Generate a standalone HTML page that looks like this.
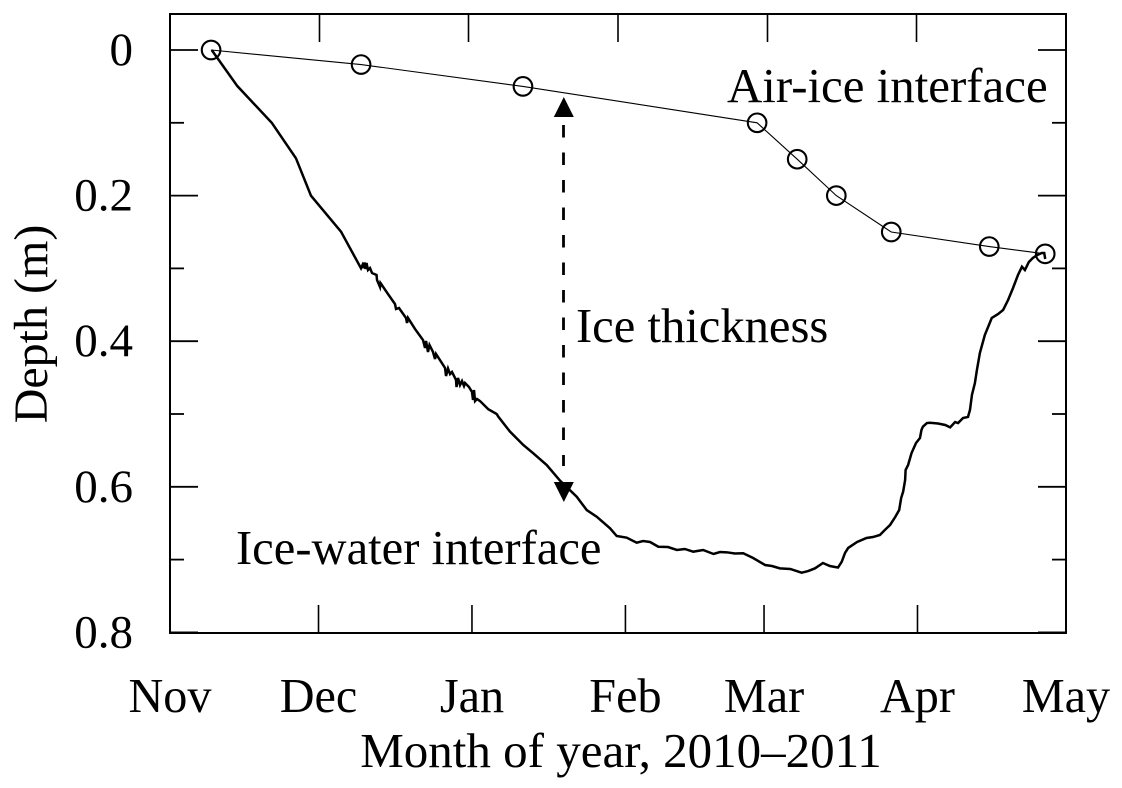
<!DOCTYPE html>
<html lang="en">
<head>
<meta charset="utf-8">
<title>Ice depth chart</title>
<style>
html,body{margin:0;padding:0;background:#fff;}
svg{display:block;}
text{font-family:"Liberation Serif",serif;font-size:48px;fill:#000;}
</style>
</head>
<body>
<svg id="chart" xmlns="http://www.w3.org/2000/svg" width="1122" height="788" viewBox="0 0 1122 788">
  <rect x="170" y="14" width="896" height="619" fill="none" stroke="#000" stroke-width="2"/>
  <g id="ticks"></g>
  <g id="labels"></g>
  <path id="air-line" fill="none" stroke="#000" stroke-width="1.1"/>
  <path id="water-line" fill="none" stroke="#000" stroke-width="2.5" stroke-linejoin="miter"/>
  <g id="air-points"></g>
  <line id="thick-dash" x1="563.5" x2="563.5" y1="125" y2="466" stroke="#000" stroke-width="2.8" stroke-dasharray="12.5 15"/>
  <polygon points="563.8,97 573.8,117 553.8,117" fill="#000"/>
  <polygon points="563.8,502 573.8,482 553.8,482" fill="#000"/>
  <text x="727" y="102" style="font-size:48.9px">Air-ice interface</text>
  <text x="576" y="342" style="font-size:48.6px">Ice thickness</text>
  <text x="236" y="564" style="font-size:48.6px">Ice-water interface</text>
  <text x="621" y="767" text-anchor="middle" style="font-size:49px">Month of year, 2010–2011</text>
  <text transform="translate(47,324) rotate(-90)" text-anchor="middle">Depth (m)</text>
</svg>
<script>
// Days since 1 November 2010; depth in metres
const monthLabels = ["Nov","Dec","Jan","Feb","Mar","Apr","May"];
const monthDays = [0,30,61,92,120,151,181];
const topTickDays = [30.2,60.3,90.5,120.7,150.8];
const depthMajorTicks = [0,0.2,0.4,0.6,0.8];
const depthMinorTicks = [0.1,0.3,0.5,0.7];
const depthTickLabels = ["0","0.2","0.4","0.6","0.8"];

const airDays = [8.3,38.6,71.3,118.6,126.7,134.6,145.7,165.5,176.8];
const airDepths = [0,0.02,0.05,0.10,0.15,0.20,0.25,0.27,0.28];

const waterDays = [8.42,13.6,20.55,25.45,28.48,34.55,38.59,38.89,39.09,39.29,39.49,39.7,40,40.4,40.81,41.72,41.82,42.42,42.52,44.04,45.45,45.66,46.26,47.68,47.88,48.08,49.49,51.11,51.52,51.72,52.12,52.42,53.13,53.54,53.74,55.56,55.76,56.16,56.57,56.97,57.78,57.88,58.18,58.59,58.99,59.39,59.6,60.4,61.01,61.21,61.41,61.62,62.02,62.63,64.3,66,66.32,68.69,71.37,73.39,76.1,78.79,82.16,84.18,86.2,88.89,90.24,92.26,94.28,95.56,96.97,98.65,100.6,102.4,104,105.7,107.7,109.8,111.1,112.5,114.1,115.8,117.8,120.2,121.6,123.2,125.3,127.6,128.9,130.3,131.9,133.3,134.34,134.95,135.7,136.36,137,138.8,140.7,142,143.4,144.4,145.45,146.5,147.3,147.7,148.1,148.5,148.6,149.1,149.8,150.7,151.5,151.8,152.1,152.9,153.5,155.15,156.6,157.6,158.6,159.2,160.2,161.2,161.6,162,162.6,163,163.6,164.6,166,167.3,168.3,169.3,170.3,171.3,172.1,172.7,173.5,174.3,175.2,176.1,176.6,176.8];
const waterDepths = [0,0.0495,0.0999,0.1488,0.2001,0.2496,0.2999,0.2953,0.2995,0.2919,0.3008,0.2926,0.3022,0.2995,0.3063,0.3091,0.3159,0.3255,0.3201,0.3352,0.3489,0.3558,0.3544,0.3681,0.375,0.3681,0.3832,0.3984,0.4093,0.3997,0.4148,0.4052,0.4148,0.4245,0.4176,0.4368,0.4478,0.4375,0.4451,0.4423,0.4533,0.4629,0.4505,0.4602,0.4547,0.4615,0.4574,0.4629,0.4698,0.4808,0.467,0.4822,0.4794,0.4822,0.4935,0.5,0.5037,0.5243,0.5426,0.554,0.5701,0.5916,0.6136,0.6319,0.6411,0.657,0.6676,0.6699,0.6768,0.6745,0.6758,0.6823,0.6827,0.6868,0.6854,0.6891,0.6868,0.6923,0.6896,0.69,0.6916,0.6913,0.6978,0.7074,0.7088,0.712,0.7129,0.718,0.7157,0.712,0.7047,0.7088,0.7102,0.7109,0.7029,0.6909,0.684,0.6758,0.6703,0.669,0.6662,0.6593,0.6525,0.6415,0.6319,0.6154,0.6067,0.5907,0.5769,0.5701,0.5536,0.5398,0.533,0.522,0.5174,0.5124,0.512,0.5131,0.5151,0.5183,0.511,0.5124,0.5055,0.5041,0.4945,0.4739,0.4574,0.4396,0.4162,0.3915,0.3681,0.3626,0.3571,0.3434,0.3269,0.3091,0.2977,0.3022,0.2912,0.2857,0.2816,0.2788,0.2788,0.2871];

const svgNS = "http://www.w3.org/2000/svg";
function xScale(day){ return 170 + day * 896 / 181; }
function yScale(depth){ return 50 + depth * 728; }
function linePath(days, depths){
  return days.map(function(d,i){
    return (i ? "L" : "M") + xScale(d).toFixed(2) + " " + yScale(depths[i]).toFixed(2);
  }).join(" ");
}
function addTick(x1,y1,x2,y2,width){
  const t = document.createElementNS(svgNS,"line");
  
  
  t.setAttribute("x1",x1);
  t.setAttribute("y1",y1);
  t.setAttribute("x2",x2);
  t.setAttribute("y2",y2);
  t.setAttribute("stroke","#000");
  t.setAttribute("stroke-width",width);
  document.getElementById("ticks").appendChild(t);
}
function addLabel(x,y,anchor,str,size){
  const t = document.createElementNS(svgNS,"text");
  
  
  t.setAttribute("x",x);
  t.setAttribute("y",y);
  t.setAttribute("text-anchor",anchor);
  t.style.fontSize = size + "px";
  t.textContent = str;
  document.getElementById("labels").appendChild(t);
}

monthDays.forEach(function(d,i){
  if(i>0 && i<monthDays.length-1){ addTick(xScale(d),633,xScale(d),605,1.6); }
  addLabel(xScale(d),712,"middle",monthLabels[i],48.2);
});
topTickDays.forEach(function(d){
  addTick(xScale(d),14,xScale(d),42,1.6);
});
depthMajorTicks.forEach(function(v,i){
  addTick(170,yScale(v),198,yScale(v),1.8);
  addTick(1066,yScale(v),1038,yScale(v),1.8);
  addLabel(133,yScale(v)+15,"end",depthTickLabels[i],47);
});
depthMinorTicks.forEach(function(v){
  addTick(170,yScale(v),184,yScale(v),1.8);
  addTick(1066,yScale(v),1052,yScale(v),1.8);
});

document.getElementById("air-line").setAttribute("d",linePath(airDays,airDepths));
document.getElementById("water-line").setAttribute("d",linePath(waterDays,waterDepths));

airDays.forEach(function(d,i){
  const c = document.createElementNS(svgNS,"circle");
  
  
  c.setAttribute("cx",xScale(d));
  c.setAttribute("cy",yScale(airDepths[i]));
  c.setAttribute("r",9.3);
  c.setAttribute("fill","none");
  c.setAttribute("stroke","#000");
  c.setAttribute("stroke-width",2.1);
  document.getElementById("air-points").appendChild(c);
});
</script>
</body>
</html>
